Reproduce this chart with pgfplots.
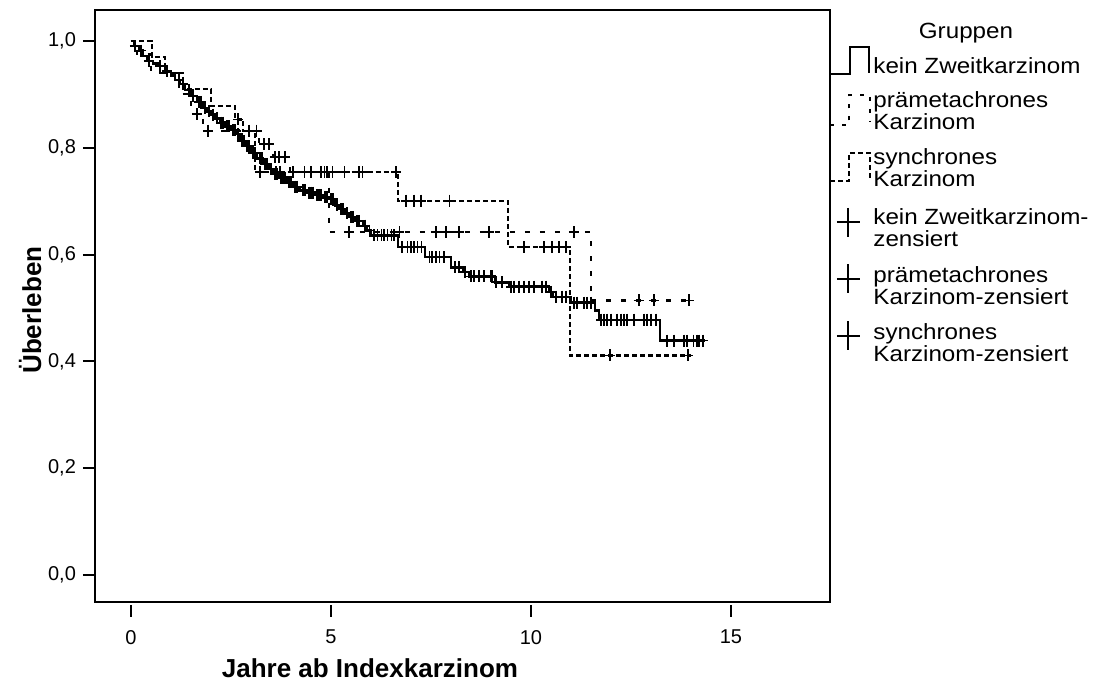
\documentclass[border=0pt]{standalone}
\usepackage{fontspec}
\setmainfont{Liberation Sans}
\newfontfamily\legfont{Liberation Sans}[FakeStretch=1.1]
\usepackage{pgfplots}
\pgfplotsset{compat=1.18}
\begin{document}
\begin{tikzpicture}
\begin{axis}[
  name=ax, at={(0,0)}, anchor=south west,
  width=367.5pt, height=296pt, scale only axis,
  xmin=-0.9, xmax=17.475, ymin=-0.0506, ymax=1.058,
  axis line style={line width=1pt},
  xtick={0,5,10,15}, ytick={0,0.2,0.4,0.6,0.8,1.0},
  tick pos=left, tick align=outside, major tick length=6pt,
  tick style={line width=1pt, black},
  xtick style={yshift=-1.5pt},
  ticklabel style={font=\fontsize{10}{12}\selectfont},
  x tick label style={yshift=-4.5pt},
  /pgf/number format/assume math mode=true,
  y tick label style={/pgf/number format/fixed, /pgf/number format/fixed zerofill, /pgf/number format/precision=1, /pgf/number format/use comma},
  xlabel={Jahre ab Indexkarzinom},
  ylabel={Überleben},
  xlabel style={font=\fontsize{13}{15}\selectfont\bfseries, at={(axis description cs:0.3741,-0.1115)}, anchor=center},
  ylabel style={font=\fontsize{13}{15}\selectfont\bfseries, at={(axis description cs:-0.0884,0.493)}, anchor=center},
]
% kein Zweitkarzinom
\addplot[const plot, line width=1.2pt] coordinates {
(0,1.000) (0.08,0.990) (0.2,0.982) (0.3,0.972) (0.4,0.963) (0.55,0.958) (0.72,0.953) (0.85,0.943)
(1.0,0.935) (1.1,0.927) (1.22,0.919) (1.35,0.908) (1.5,0.897) (1.65,0.886) (1.8,0.875) (1.9,0.868)
(2.0,0.862) (2.1,0.855) (2.22,0.847) (2.35,0.840) (2.5,0.833) (2.63,0.826) (2.72,0.813) (2.85,0.803)
(3.0,0.790) (3.15,0.780) (3.3,0.770) (3.45,0.760) (3.55,0.751) (3.7,0.744) (3.9,0.735) (4.05,0.727)
(4.21,0.720) (4.4,0.716) (4.6,0.712) (4.8,0.707) (4.96,0.704) (5.1,0.692) (5.2,0.685) (5.35,0.677)
(5.46,0.670) (5.6,0.663) (5.8,0.654) (5.9,0.645) (6.0,0.636) (6.68,0.614) (7.35,0.595) (8.0,0.576)
(8.3,0.567) (8.45,0.559) (9.1,0.548) (9.45,0.540) (10.45,0.530) (10.55,0.521) (11.0,0.510) (11.6,0.495)
(11.7,0.478) (13.23,0.439) (14.35,0.439)};
% praemetachrones
\addplot[const plot, line width=1.1pt, dash pattern=on 2.5pt off 5pt] coordinates {
(0,1.000) (0.15,0.975) (0.5,0.940) (1.2,0.900) (1.5,0.863) (1.8,0.832) (3.2,0.807) (3.55,0.782)
(3.97,0.754) (4.96,0.642) (11.49,0.514) (13.98,0.514)};
% synchrones
\addplot[const plot, line width=1.1pt, dash pattern=on 2.5pt off 1.5pt] coordinates {
(0,1.000) (0.52,0.970) (0.85,0.940) (1.3,0.910) (2.0,0.878) (2.6,0.853) (2.8,0.832) (3.1,0.754)
(6.68,0.701) (9.43,0.614) (10.97,0.411) (14.0,0.411)};
% censored marks: kein Zweitkarzinom
\addplot[only marks, mark=+, mark size=2.5pt, mark options={line width=0.9pt, yscale=1.2}] coordinates {
(0.1,0.990) (0.25,0.982) (0.45,0.963) (0.72,0.953) (0.9,0.943) (1.2,0.927) (1.3,0.919) (1.45,0.908)
(1.55,0.897) (1.7,0.886) (1.75,0.886) (1.85,0.875) (1.95,0.868) (2.05,0.862) (2.15,0.855) (2.25,0.847)
(2.3,0.847) (2.4,0.840) (2.45,0.840) (2.55,0.833) (2.6,0.833) (2.68,0.826) (2.77,0.813) (2.82,0.813)
(2.9,0.803) (2.95,0.803) (3.05,0.790) (3.1,0.790) (3.22,0.780) (3.27,0.780) (3.35,0.770) (3.4,0.770)
(3.5,0.760) (3.6,0.751) (3.65,0.751) (3.75,0.744) (3.8,0.744) (3.85,0.744) (3.95,0.735) (4.0,0.735)
(4.1,0.727) (4.15,0.727) (4.3,0.720) (4.35,0.720) (4.45,0.716) (4.5,0.716) (4.55,0.716) (4.65,0.712)
(4.7,0.712) (4.75,0.712) (4.85,0.707) (4.9,0.707) (5.0,0.704) (5.05,0.704) (5.15,0.692) (5.25,0.685)
(5.3,0.685) (5.4,0.677) (5.5,0.670) (5.55,0.670) (5.65,0.663) (5.7,0.663) (5.85,0.654) (5.96,0.645)
(6.08,0.636) (6.16,0.636) (6.26,0.636) (6.33,0.636) (6.41,0.636) (6.51,0.636) (6.58,0.636) (6.78,0.614)
(6.91,0.614) (7.0,0.614) (7.08,0.614) (7.16,0.614) (7.26,0.614) (7.46,0.595) (7.53,0.595) (7.63,0.595)
(7.71,0.595) (7.83,0.595) (8.1,0.576) (8.2,0.576) (8.35,0.567) (8.5,0.559) (8.58,0.559) (8.7,0.559)
(8.83,0.559) (9.0,0.559) (9.03,0.559) (9.13,0.548) (9.28,0.548) (9.5,0.540) (9.58,0.540) (9.7,0.540)
(9.83,0.540) (9.95,0.540) (10.07,0.540) (10.27,0.540) (10.37,0.540) (10.5,0.530) (10.62,0.521) (10.77,0.521)
(10.87,0.521) (11.07,0.510) (11.15,0.510) (11.32,0.510) (11.4,0.510) (11.5,0.510) (11.75,0.478) (11.82,0.478)
(11.9,0.478) (12.0,0.478) (12.14,0.478) (12.24,0.478) (12.32,0.478) (12.39,0.478) (12.57,0.478) (12.82,0.478)
(12.89,0.478) (13.0,0.478) (13.12,0.478) (13.39,0.439) (13.57,0.439) (13.82,0.439) (13.89,0.439) (14.06,0.439)
(14.14,0.439) (14.19,0.439) (14.3,0.439)};
% censored marks: praemetachrones
\addplot[only marks, mark=+, mark size=2.5pt, mark options={line width=0.9pt, yscale=1.2}] coordinates {
(1.65,0.863) (1.92,0.832) (2.95,0.832) (3.14,0.832) (3.33,0.807) (3.45,0.807) (3.6,0.782) (3.7,0.782)
(3.85,0.782) (5.46,0.642) (6.71,0.642) (7.62,0.642) (7.87,0.642) (8.2,0.642) (8.95,0.642) (11.07,0.642)
(12.69,0.514) (13.07,0.514) (13.94,0.514)};
% censored marks: synchrones
\addplot[only marks, mark=+, mark size=2.5pt, mark options={line width=0.9pt, yscale=1.2}] coordinates {
(2.67,0.853) (3.22,0.754) (3.63,0.754) (3.72,0.754) (4.05,0.754) (4.34,0.754) (4.5,0.754) (4.76,0.754)
(4.84,0.754) (4.91,0.754) (5.04,0.754) (5.34,0.754) (5.71,0.754) (5.79,0.754) (6.63,0.754) (6.87,0.701)
(7.08,0.701) (7.25,0.701) (7.96,0.701) (9.83,0.614) (10.32,0.614) (10.53,0.614) (10.7,0.614) (10.87,0.614)
(11.97,0.411) (13.93,0.411)};
\end{axis}
% legend (drawn beside the axis)
\begin{scope}[shift={(ax.north east)}, every node/.style={font=\legfont\fontsize{11}{11}\selectfont, inner sep=0pt, align=left}]
\node[anchor=center] at (68pt,-11.5pt) {Gruppen};
\draw[line width=1pt] (0pt,-32pt) -- (10pt,-32pt) -- (10pt,-18.65pt) -- (19.7pt,-18.65pt) -- (19.7pt,-31.5pt);
\node[anchor=west] at (21.5pt,-28pt) {kein Zweitkarzinom};
\draw[line width=1pt, dash pattern=on 2pt off 4pt] (0pt,-57.5pt) -- (9.65pt,-57.5pt) -- (9.65pt,-42.5pt) -- (20pt,-42.5pt) -- (20pt,-56pt);
\node[anchor=west] at (21.5pt,-50.5pt) {prämetachrones\\Karzinom};
\draw[line width=1pt, dash pattern=on 2.5pt off 1.5pt] (0pt,-85.35pt) -- (9.65pt,-85.35pt) -- (9.65pt,-71.5pt) -- (20pt,-71.5pt) -- (20pt,-84.5pt);
\node[anchor=west] at (21.5pt,-79pt) {synchrones\\Karzinom};
\draw[line width=1pt] (3.4pt,-106.25pt) -- (14.9pt,-106.25pt) (9.15pt,-99pt) -- (9.15pt,-113.5pt);
\node[anchor=west] at (21.5pt,-108.75pt) {kein Zweitkarzinom-\\zensiert};
\draw[line width=1pt] (3.4pt,-134.5pt) -- (14.9pt,-134.5pt) (9.15pt,-127.25pt) -- (9.15pt,-141.75pt);
\node[anchor=west] at (21.5pt,-137.75pt) {prämetachrones\\Karzinom-zensiert};
\draw[line width=1pt] (3.4pt,-163pt) -- (14.9pt,-163pt) (9.15pt,-155.75pt) -- (9.15pt,-170.25pt);
\node[anchor=west] at (21.5pt,-166.25pt) {synchrones\\Karzinom-zensiert};
\end{scope}
\pgfresetboundingbox
\path[use as bounding box] ([xshift=-47.5pt,yshift=-43.5pt]ax.south west) rectangle ([xshift=499.5pt,yshift=301pt]ax.south west);
\end{tikzpicture}
\end{document}
